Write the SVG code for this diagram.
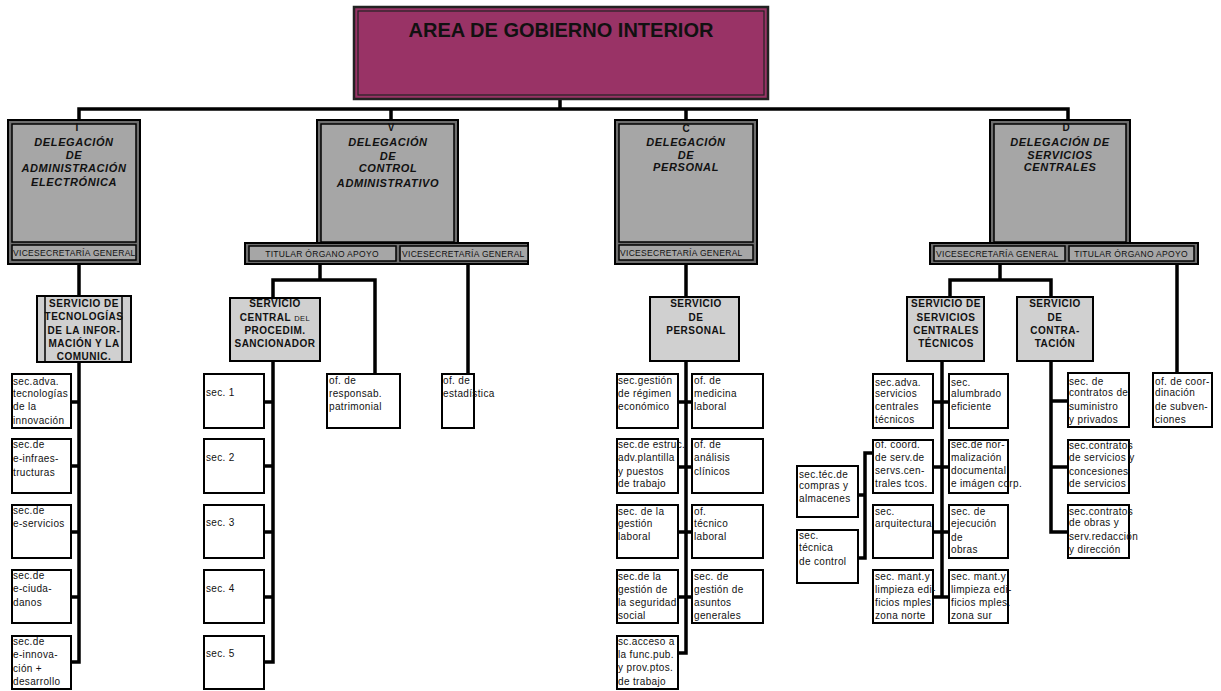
<svg xmlns="http://www.w3.org/2000/svg" width="1221" height="691" viewBox="0 0 1221 691">
<style>
.bg{fill:#ffffff}
.top{fill:#993366;stroke:#222;stroke-width:2.5}
.topin{fill:none;stroke:#222;stroke-width:1.2}
.delo{fill:#6e6e6e;stroke:#000;stroke-width:2}
.deli{fill:#a6a6a6;stroke:#000;stroke-width:1.5}
.srv{fill:#d0d0d0;stroke:#000;stroke-width:2}
.sec{fill:#ffffff;stroke:#000;stroke-width:2}
.ln{fill:none;stroke:#000;stroke-width:3.5;stroke-linejoin:miter;stroke-linecap:square}
.t0{font-family:"Liberation Sans",Arial,sans-serif;font-weight:bold;font-size:20px;fill:#111;text-anchor:middle}
.td{font-family:"Liberation Sans",Arial,sans-serif;font-weight:bold;font-style:italic;font-size:11px;letter-spacing:0.6px;fill:#111;text-anchor:middle}
.tl{font-family:"Liberation Sans",Arial,sans-serif;font-weight:bold;font-size:10px;fill:#111;text-anchor:middle}
.tb{font-family:"Liberation Sans",Arial,sans-serif;font-size:8.5px;letter-spacing:0.3px;fill:#111}
.ts{font-family:"Liberation Sans",Arial,sans-serif;font-weight:bold;font-size:10px;letter-spacing:0.5px;fill:#111;text-anchor:middle}
.tx{font-family:"Liberation Sans",Arial,sans-serif;font-size:10px;letter-spacing:0.35px;fill:#111}
</style>
<rect class="bg" x="0" y="0" width="1221" height="691"/>

<g id="connectors">
<path class="ln" d="M560,99 V109 M79,120 V109 H1068 V120 M391,109 V120 M686,109 V120"/>
<!-- Del 1 -->
<path class="ln" d="M79,264 V296 M79,362 V662 M71,402 H79 M71,466 H79 M71,532 H79 M71,597 H79 M71,662 H79"/>
<!-- Del 2 -->
<path class="ln" d="M320,264 V280 M273,298 V280 H375 V374 M468,264 V374"/>
<path class="ln" d="M273,361 V662 M264,402 H273 M264,466 H273 M264,532 H273 M264,597 H273 M264,662 H273"/>
<!-- Del 3 -->
<path class="ln" d="M686,264 V297 M686,361 V653 M678,402 H692 M678,467 H692 M678,532 H692 M678,597 H692 M678,653 H686"/>
<!-- Del 4 -->
<path class="ln" d="M1000,264 V280 M950,297 V280 H1051 V297 M1177,264 V373"/>
<path class="ln" d="M942,361 V597 M933,402 H949 M933,467 H949 M933,532 H949 M933,597 H949"/>
<path class="ln" d="M873,453 H865 V558 M858,495 H865 M858,558 H865"/>
<path class="ln" d="M1051,361 V532 M1051,401 H1068 M1051,467 H1068 M1051,532 H1068"/>
</g>

<g id="area">
<rect class="top" x="354" y="7" width="414" height="92"/>
<rect class="topin" x="358" y="11" width="406" height="84"/>
<text class="t0" x="561" y="37">AREA DE GOBIERNO INTERIOR</text>
</g>

<g id="del-administracion-electronica">
<rect class="delo" x="8" y="120" width="132" height="144"/>
<rect class="deli" x="12" y="124" width="124" height="118"/>
<rect class="deli" x="12" y="245" width="124" height="15"/>
<text class="tl" x="77" y="131">I</text>
<text class="td" x="74" y="146">DELEGACIÓN</text>
<text class="td" x="74" y="159">DE</text>
<text class="td" x="74" y="172">ADMINISTRACIÓN</text>
<text class="td" x="74" y="186">ELECTRÓNICA</text>
<text class="tb" x="13" y="256">VICESECRETARÍA GENERAL</text>
</g>

<g id="del-control-administrativo">
<rect class="delo" x="317" y="120" width="141" height="125"/>
<rect class="deli" x="321" y="124" width="133" height="118"/>
<rect class="delo" x="245" y="243" width="283" height="21"/>
<rect class="deli" x="249" y="246" width="147" height="15"/>
<rect class="deli" x="400" y="246" width="128" height="15"/>
<text class="tl" x="391" y="131">V</text>
<text class="td" x="388" y="146">DELEGACIÓN</text>
<text class="td" x="388" y="160">DE</text>
<text class="td" x="388" y="172">CONTROL</text>
<text class="td" x="388" y="187">ADMINISTRATIVO</text>
<text class="tb" x="322" y="257" text-anchor="middle">TITULAR ÓRGANO APOYO</text>
<text class="tb" x="402" y="257">VICESECRETARÍA GENERAL</text>
</g>

<g id="del-personal">
<rect class="delo" x="615" y="120" width="142" height="144"/>
<rect class="deli" x="619" y="124" width="134" height="118"/>
<rect class="deli" x="619" y="245" width="134" height="15"/>
<text class="tl" x="686" y="132">C</text>
<text class="td" x="686" y="146">DELEGACIÓN</text>
<text class="td" x="686" y="159">DE</text>
<text class="td" x="686" y="171">PERSONAL</text>
<text class="tb" x="620" y="256">VICESECRETARÍA GENERAL</text>
</g>

<g id="del-servicios-centrales">
<rect class="delo" x="990" y="120" width="140" height="125"/>
<rect class="deli" x="994" y="124" width="132" height="118"/>
<rect class="delo" x="930" y="243" width="268" height="21"/>
<rect class="deli" x="934" y="246" width="131" height="15"/>
<rect class="deli" x="1069" y="246" width="125" height="15"/>
<text class="tl" x="1066" y="131">D</text>
<text class="td" x="1060" y="146">DELEGACIÓN DE</text>
<text class="td" x="1060" y="159">SERVICIOS</text>
<text class="td" x="1060" y="171">CENTRALES</text>
<text class="tb" x="936" y="257">VICESECRETARÍA GENERAL</text>
<text class="tb" x="1131" y="257" text-anchor="middle">TITULAR ÓRGANO APOYO</text>
</g>

<g id="srv-tic">
<rect class="srv" x="37" y="296" width="94" height="66"/>
<path d="M45,297 V361 M122,297 V361" stroke="#000" stroke-width="1.5"/>
<text class="ts" x="84" y="307">SERVICIO DE</text>
<text class="ts" x="84" y="320">TECNOLOGÍAS</text>
<text class="ts" x="84" y="334">DE LA INFOR-</text>
<text class="ts" x="84" y="347">MACIÓN Y LA</text>
<text class="ts" x="84" y="360">COMUNIC.</text>
</g>

<g id="srv-sancionador">
<rect class="srv" x="230" y="298" width="90" height="63"/>
<text class="ts" x="275" y="307">SERVICIO</text>
<text class="ts" x="275" y="321">CENTRAL <tspan font-size="7.5px" font-weight="normal">DEL</tspan></text>
<text class="ts" x="275" y="334">PROCEDIM.</text>
<text class="ts" x="275" y="347">SANCIONADOR</text>
</g>

<g id="srv-personal">
<rect class="srv" x="650" y="297" width="89" height="64"/>
<text class="ts" x="696" y="307">SERVICIO</text>
<text class="ts" x="696" y="321">DE</text>
<text class="ts" x="696" y="334">PERSONAL</text>
</g>

<g id="srv-sct">
<rect class="srv" x="907" y="297" width="77" height="64"/>
<text class="ts" x="946" y="307">SERVICIO DE</text>
<text class="ts" x="946" y="321">SERVICIOS</text>
<text class="ts" x="946" y="334">CENTRALES</text>
<text class="ts" x="946" y="347">TÉCNICOS</text>
</g>

<g id="srv-contratacion">
<rect class="srv" x="1017" y="297" width="76" height="64"/>
<text class="ts" x="1055" y="307">SERVICIO</text>
<text class="ts" x="1055" y="321">DE</text>
<text class="ts" x="1055" y="334">CONTRA-</text>
<text class="ts" x="1055" y="347">TACIÓN</text>
</g>

<!-- Del 1 sections -->
<g id="s1-1"><rect class="sec" x="12" y="374" width="59" height="54"/>
<text class="tx" x="13" y="385">sec.adva.</text><text class="tx" x="13" y="397">tecnologías</text><text class="tx" x="13" y="410">de la</text><text class="tx" x="13" y="424">innovación</text></g>
<g id="s1-2"><rect class="sec" x="12" y="439" width="59" height="54"/>
<text class="tx" x="13" y="448">sec.de</text><text class="tx" x="13" y="462">e-infraes-</text><text class="tx" x="13" y="476">tructuras</text></g>
<g id="s1-3"><rect class="sec" x="12" y="505" width="59" height="53"/>
<text class="tx" x="13" y="514">sec.de</text><text class="tx" x="13" y="527">e-servicios</text></g>
<g id="s1-4"><rect class="sec" x="12" y="570" width="59" height="53"/>
<text class="tx" x="13" y="579">sec.de</text><text class="tx" x="13" y="592">e-ciuda-</text><text class="tx" x="13" y="606">danos</text></g>
<g id="s1-5"><rect class="sec" x="12" y="636" width="59" height="53"/>
<text class="tx" x="13" y="645">sec.de</text><text class="tx" x="13" y="658">e-innova-</text><text class="tx" x="13" y="672">ción +</text><text class="tx" x="13" y="685">desarrollo</text></g>

<!-- Del 2 sections -->
<g id="s2-1"><rect class="sec" x="204" y="374" width="60" height="54"/><text class="tx" x="206" y="396">sec. 1</text></g>
<g id="s2-2"><rect class="sec" x="204" y="439" width="60" height="54"/><text class="tx" x="206" y="461">sec. 2</text></g>
<g id="s2-3"><rect class="sec" x="204" y="505" width="60" height="53"/><text class="tx" x="206" y="526">sec. 3</text></g>
<g id="s2-4"><rect class="sec" x="204" y="570" width="60" height="53"/><text class="tx" x="206" y="592">sec. 4</text></g>
<g id="s2-5"><rect class="sec" x="204" y="636" width="60" height="53"/><text class="tx" x="206" y="657">sec. 5</text></g>
<g id="of-responsab"><rect class="sec" x="327" y="374" width="73" height="54"/>
<text class="tx" x="329" y="384">of. de</text><text class="tx" x="329" y="397">responsab.</text><text class="tx" x="329" y="410">patrimonial</text></g>
<g id="of-estadistica"><rect class="sec" x="442" y="374" width="32" height="54"/>
<text class="tx" x="443" y="384">of. de</text><text class="tx" x="443" y="397">estadística</text></g>

<!-- Del 3 sections -->
<g id="s3-1l"><rect class="sec" x="617" y="374" width="61" height="54"/>
<text class="tx" x="618" y="384">sec.gestión</text><text class="tx" x="618" y="397">de régimen</text><text class="tx" x="618" y="410">económico</text></g>
<g id="s3-1r"><rect class="sec" x="692" y="374" width="71" height="54"/>
<text class="tx" x="694" y="384">of. de</text><text class="tx" x="694" y="397">medicina</text><text class="tx" x="694" y="410">laboral</text></g>
<g id="s3-2l"><rect class="sec" x="617" y="439" width="61" height="54"/>
<text class="tx" x="618" y="448">sec.de estruc.</text><text class="tx" x="618" y="461">adv.plantilla</text><text class="tx" x="618" y="475">y puestos</text><text class="tx" x="618" y="487">de trabajo</text></g>
<g id="s3-2r"><rect class="sec" x="692" y="439" width="71" height="54"/>
<text class="tx" x="694" y="448">of. de</text><text class="tx" x="694" y="461">análisis</text><text class="tx" x="694" y="475">clínicos</text></g>
<g id="s3-3l"><rect class="sec" x="617" y="505" width="61" height="53"/>
<text class="tx" x="618" y="515">sec. de la</text><text class="tx" x="618" y="527">gestión</text><text class="tx" x="618" y="540">laboral</text></g>
<g id="s3-3r"><rect class="sec" x="692" y="505" width="71" height="53"/>
<text class="tx" x="694" y="515">of.</text><text class="tx" x="694" y="527">técnico</text><text class="tx" x="694" y="540">laboral</text></g>
<g id="s3-4l"><rect class="sec" x="617" y="570" width="61" height="53"/>
<text class="tx" x="618" y="580">sec.de la</text><text class="tx" x="618" y="593">gestión de</text><text class="tx" x="618" y="606">la seguridad</text><text class="tx" x="618" y="619">social</text></g>
<g id="s3-4r"><rect class="sec" x="692" y="570" width="71" height="53"/>
<text class="tx" x="694" y="580">sec. de</text><text class="tx" x="694" y="593">gestión de</text><text class="tx" x="694" y="606">asuntos</text><text class="tx" x="694" y="619">generales</text></g>
<g id="s3-5l"><rect class="sec" x="617" y="636" width="61" height="53"/>
<text class="tx" x="618" y="645">sc.acceso a</text><text class="tx" x="618" y="658">la func.pub.</text><text class="tx" x="618" y="671">y prov.ptos.</text><text class="tx" x="618" y="685">de trabajo</text></g>

<!-- Del 4 SCT sections -->
<g id="s4-1l"><rect class="sec" x="873" y="374" width="60" height="54"/>
<text class="tx" x="875" y="386">sec.adva.</text><text class="tx" x="875" y="397">servicios</text><text class="tx" x="875" y="410">centrales</text><text class="tx" x="875" y="423">técnicos</text></g>
<g id="s4-1r"><rect class="sec" x="949" y="374" width="59" height="54"/>
<text class="tx" x="951" y="386">sec.</text><text class="tx" x="951" y="397">alumbrado</text><text class="tx" x="951" y="410">eficiente</text></g>
<g id="s4-2l"><rect class="sec" x="873" y="440" width="60" height="53"/>
<text class="tx" x="875" y="448">of. coord.</text><text class="tx" x="875" y="461">de serv.de</text><text class="tx" x="875" y="474">servs.cen-</text><text class="tx" x="875" y="487">trales tcos.</text></g>
<g id="s4-2r"><rect class="sec" x="949" y="440" width="59" height="53"/>
<text class="tx" x="951" y="448">sec.de nor-</text><text class="tx" x="951" y="461">malización</text><text class="tx" x="951" y="474">documental</text><text class="tx" x="951" y="487">e imágen corp.</text></g>
<g id="s4-3l"><rect class="sec" x="873" y="505" width="60" height="53"/>
<text class="tx" x="875" y="515">sec.</text><text class="tx" x="875" y="527">arquitectura</text></g>
<g id="s4-3r"><rect class="sec" x="949" y="505" width="59" height="53"/>
<text class="tx" x="951" y="515">sec. de</text><text class="tx" x="951" y="527">ejecución</text><text class="tx" x="951" y="541">de</text><text class="tx" x="951" y="553">obras</text></g>
<g id="s4-4l"><rect class="sec" x="873" y="570" width="60" height="53"/>
<text class="tx" x="875" y="580">sec. mant.y</text><text class="tx" x="875" y="593">limpieza edi-</text><text class="tx" x="875" y="606">ficios mples.</text><text class="tx" x="875" y="619">zona norte</text></g>
<g id="s4-4r"><rect class="sec" x="949" y="570" width="59" height="53"/>
<text class="tx" x="951" y="580">sec. mant.y</text><text class="tx" x="951" y="593">limpieza edi-</text><text class="tx" x="951" y="606">ficios mples.</text><text class="tx" x="951" y="619">zona sur</text></g>
<g id="s4-a"><rect class="sec" x="797" y="466" width="61" height="51"/>
<text class="tx" x="799" y="478">sec.téc.de</text><text class="tx" x="799" y="489">compras y</text><text class="tx" x="799" y="502">almacenes</text></g>
<g id="s4-b"><rect class="sec" x="797" y="530" width="61" height="53"/>
<text class="tx" x="799" y="539">sec.</text><text class="tx" x="799" y="551">técnica</text><text class="tx" x="799" y="565">de control</text></g>

<!-- Contratación sections -->
<g id="s5-1"><rect class="sec" x="1068" y="373" width="61" height="54"/>
<text class="tx" x="1069" y="385">sec. de</text><text class="tx" x="1069" y="396">contratos de</text><text class="tx" x="1069" y="410">suministro</text><text class="tx" x="1069" y="423">y privados</text></g>
<g id="s5-2"><rect class="sec" x="1068" y="440" width="61" height="53"/>
<text class="tx" x="1069" y="449">sec.contratos</text><text class="tx" x="1069" y="461">de servicios y</text><text class="tx" x="1069" y="475">concesiones</text><text class="tx" x="1069" y="487">de servicios</text></g>
<g id="s5-3"><rect class="sec" x="1068" y="505" width="61" height="53"/>
<text class="tx" x="1069" y="515">sec.contratos</text><text class="tx" x="1069" y="526">de obras y</text><text class="tx" x="1069" y="540">serv.redacción</text><text class="tx" x="1069" y="553">y dirección</text></g>
<g id="of-coord"><rect class="sec" x="1153" y="373" width="59" height="54"/>
<text class="tx" x="1155" y="385">of. de coor-</text><text class="tx" x="1155" y="396">dinación</text><text class="tx" x="1155" y="410">de subven-</text><text class="tx" x="1155" y="423">ciones</text></g>
</svg>
